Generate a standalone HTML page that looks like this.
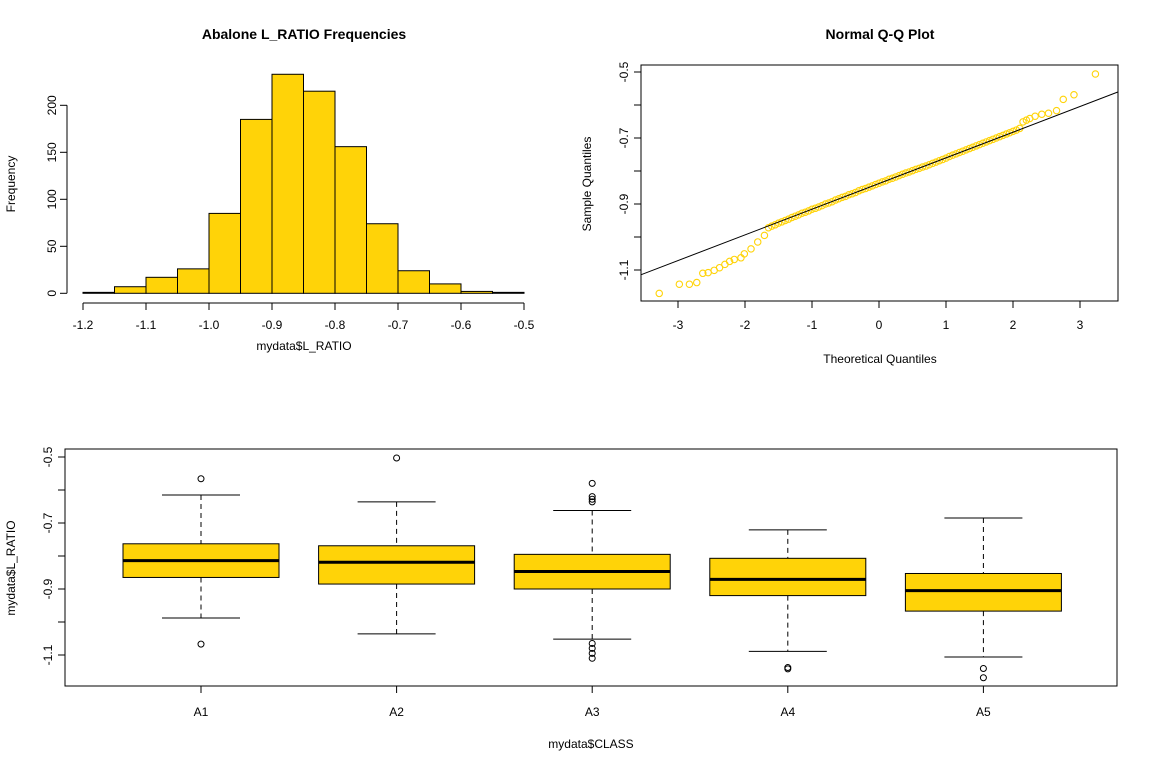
<!DOCTYPE html>
<html><head><meta charset="utf-8"><style>
body{margin:0;background:#fff}
svg{display:block;font-family:"Liberation Sans",sans-serif}
</style></head><body>
<svg id="svg" width="1152" height="768" viewBox="0 0 1152 768"></svg>
<script>
// ---- histogram data ----
const histBreaks = [-1.2,-1.15,-1.1,-1.05,-1.0,-0.95,-0.9,-0.85,-0.8,-0.75,-0.7,-0.65,-0.6,-0.55,-0.5];
const histCounts = [1,7,17,26,85,185,233,215,156,74,24,10,2,1];
const histXTicks = [-1.2,-1.1,-1.0,-0.9,-0.8,-0.7,-0.6,-0.5];
const histXTickLabels = ["-1.2","-1.1","-1.0","-0.9","-0.8","-0.7","-0.6","-0.5"];
const histYTicks = [0,50,100,150,200];
// ---- QQ data ----
const qqTheo = [-3.28,-2.98,-2.83,-2.72,-2.63,-2.55,-2.46,-2.38,-2.30,-2.23,-2.16,-2.06,-2.01,-1.91,-1.81,-1.71,
-1.65,-1.60,-1.55,-1.50,-1.45,-1.40,-1.35,-1.30,-1.25,-1.20,-1.15,-1.10,-1.05,-1.00,-0.95,-0.90,-0.85,-0.80,-0.75,-0.70,-0.65,-0.60,-0.55,-0.50,-0.45,-0.40,-0.35,-0.30,-0.25,-0.20,-0.15,-0.10,-0.05,0.00,
0.05,0.10,0.15,0.20,0.25,0.30,0.35,0.40,0.45,0.50,0.55,0.60,0.65,0.70,0.75,0.80,0.85,0.90,0.95,1.00,1.05,1.10,1.15,1.20,1.25,1.30,1.35,1.40,1.45,1.50,1.55,1.60,1.65,1.70,1.75,1.80,1.85,1.90,1.95,2.00,2.05,2.10,
2.15,2.20,2.25,2.33,2.43,2.53,2.65,2.75,2.91,3.23];
const qqSample = [-1.171,-1.143,-1.143,-1.138,-1.110,-1.108,-1.101,-1.093,-1.083,-1.074,-1.068,-1.063,-1.051,-1.036,-1.015,-0.995,
-0.972,-0.967,-0.963,-0.958,-0.954,-0.950,-0.946,-0.941,-0.937,-0.933,-0.928,-0.925,-0.921,-0.916,-0.913,-0.909,-0.905,-0.900,-0.897,-0.893,-0.888,-0.884,-0.880,-0.877,-0.872,-0.869,-0.865,-0.860,-0.856,-0.853,-0.849,-0.845,-0.841,-0.837,
-0.833,-0.830,-0.825,-0.822,-0.818,-0.814,-0.810,-0.806,-0.803,-0.799,-0.795,-0.792,-0.788,-0.785,-0.781,-0.777,-0.773,-0.769,-0.765,-0.761,-0.756,-0.752,-0.748,-0.744,-0.740,-0.736,-0.732,-0.728,-0.724,-0.720,-0.716,-0.712,-0.708,-0.704,-0.700,-0.696,-0.692,-0.688,-0.684,-0.680,-0.676,-0.671,
-0.651,-0.646,-0.641,-0.634,-0.628,-0.625,-0.617,-0.583,-0.569,-0.506];
const qqLine = [-0.838, 0.0778]; // intercept, slope
const qqXTicks = [-3,-2,-1,0,1,2,3];
const qqYTicks = [-0.5,-0.7,-0.9,-1.1];
const qqYTickLabels = ["-0.5","-0.7","-0.9","-1.1"];
// ---- boxplot data ----
const boxCats = ["A1","A2","A3","A4","A5"];
const boxLowW = [-0.988,-1.036,-1.052,-1.089,-1.106];
const boxQ1 = [-0.865,-0.885,-0.900,-0.920,-0.967];
const boxMed = [-0.814,-0.819,-0.847,-0.871,-0.905];
const boxQ3 = [-0.763,-0.769,-0.795,-0.807,-0.853];
const boxHighW = [-0.615,-0.636,-0.662,-0.721,-0.685];
const boxOutliers = [[-0.566,-1.067],[-0.503],[-0.580,-0.620,-0.628,-0.636,-1.065,-1.080,-1.095,-1.110],[-1.138,-1.142],[-1.141,-1.169]];
const boxYTicks = [-0.5,-0.6,-0.7,-0.8,-0.9,-1.0,-1.1];
const boxYLabels = ["-0.5","","-0.7","","-0.9","","-1.1"];

const NS="http://www.w3.org/2000/svg";
const svg=document.getElementById('svg');
const GOLD="#FFD308";
function mk(tag,attrs,parent){const e=document.createElementNS(NS,tag);for(const k in attrs)e.setAttribute(k,attrs[k]);(parent||svg).appendChild(e);return e;}
function txt(s,x,y,opts,parent){const e=mk('text',Object.assign({x:x,y:y,'text-anchor':'middle','font-size':12,fill:'#000'},opts||{}),parent);e.textContent=s;return e;}

// ===== Histogram =====
const hx=v=>83+(v+1.2)*630;
const hy=c=>293.3-c*0.94;
const gH=mk('g',{});


let t=txt("Abalone L_RATIO Frequencies",304,39,{'font-size':14,'font-weight':'bold'},gH);

histCounts.forEach((c,i)=>{
  const r=mk('rect',{x:hx(histBreaks[i]),y:hy(c),width:hx(histBreaks[i+1])-hx(histBreaks[i]),height:hy(0)-hy(c),fill:GOLD,stroke:'#000','stroke-width':1},gH);
  
});
mk('line',{x1:hx(-1.2),x2:hx(-0.5),y1:303,y2:303,stroke:'#000'},gH);
histXTicks.forEach((v,i)=>{mk('line',{x1:hx(v),x2:hx(v),y1:303,y2:310,stroke:'#000'},gH);
  const l=txt(histXTickLabels[i],hx(v),329,{},gH);});
mk('line',{x1:67,x2:67,y1:hy(0),y2:hy(200),stroke:'#000'},gH);
histYTicks.forEach(v=>{mk('line',{x1:60,x2:67,y1:hy(v),y2:hy(v),stroke:'#000'},gH);
  const l=txt(String(v),0,0,{transform:`translate(${56},${hy(v)}) rotate(-90)`},gH);});
t=txt("mydata$L_RATIO",304,350,{},gH);
t=txt("Frequency",0,0,{transform:'translate(15,184) rotate(-90)'},gH);

// ===== QQ plot =====
const qx=v=>879+v*67;
const qy=v=>72+(-0.5-v)*330;
const gQ=mk('g',{});


t=txt("Normal Q-Q Plot",880,39,{'font-size':14,'font-weight':'bold'},gQ);
const clip=mk('clipPath',{id:'qqclip'},gQ);mk('rect',{x:641,y:65,width:477,height:236},clip);
const pts=mk('g',{'clip-path':'url(#qqclip)'},gQ);
qqTheo.forEach((v,i)=>{const c=mk('circle',{cx:qx(v),cy:qy(qqSample[i]),r:3.2,fill:'none',stroke:GOLD,'stroke-width':1.1},pts);
  });
const ln=mk('line',{x1:qx(-4),y1:qy(qqLine[0]-4*qqLine[1]),x2:qx(4),y2:qy(qqLine[0]+4*qqLine[1]),stroke:'#000','stroke-width':1},pts);

mk('rect',{x:641,y:65,width:477,height:236,fill:'none',stroke:'#000'},gQ);
qqXTicks.forEach(v=>{mk('line',{x1:qx(v),x2:qx(v),y1:301,y2:308,stroke:'#000'},gQ);
  const l=txt(String(v),qx(v),329,{},gQ);});
qqYTicks.forEach((v,i)=>{mk('line',{x1:634,x2:641,y1:qy(v),y2:qy(v),stroke:'#000'},gQ);
  const l=txt(qqYTickLabels[i],0,0,{transform:`translate(${628},${qy(v)}) rotate(-90)`},gQ);});
[-0.6,-0.8,-1.0].forEach(v=>mk('line',{x1:634,x2:641,y1:qy(v),y2:qy(v),stroke:'#000'},gQ));
t=txt("Theoretical Quantiles",880,363,{},gQ);
t=txt("Sample Quantiles",0,0,{transform:'translate(591,184) rotate(-90)'},gQ);

// ===== Boxplot =====
const bx=i=>201+i*195.6;
const by=v=>457+(-0.5-v)*330;
const gB=mk('g',{});


boxCats.forEach((c,i)=>{
  const g=mk('g',{},gB);
  
  const x=bx(i);
  mk('line',{x1:x,x2:x,y1:by(boxHighW[i]),y2:by(boxQ3[i]),stroke:'#000','stroke-dasharray':'5,4'},g);
  mk('line',{x1:x,x2:x,y1:by(boxQ1[i]),y2:by(boxLowW[i]),stroke:'#000','stroke-dasharray':'5,4'},g);
  mk('line',{x1:x-39,x2:x+39,y1:by(boxHighW[i]),y2:by(boxHighW[i]),stroke:'#000'},g);
  mk('line',{x1:x-39,x2:x+39,y1:by(boxLowW[i]),y2:by(boxLowW[i]),stroke:'#000'},g);
  mk('rect',{x:x-78,y:by(boxQ3[i]),width:156,height:by(boxQ1[i])-by(boxQ3[i]),fill:GOLD,stroke:'#000'},g);
  mk('line',{x1:x-78,x2:x+78,y1:by(boxMed[i]),y2:by(boxMed[i]),stroke:'#000','stroke-width':3},g);
  boxOutliers[i].forEach(o=>{const c=mk('circle',{cx:x,cy:by(o),r:3,fill:'none',stroke:'#000'},g);
    });
  mk('line',{x1:x,x2:x,y1:686,y2:693,stroke:'#000'},gB);
  const l=txt(c,x,716,{},gB);
});
mk('rect',{x:65,y:449,width:1052,height:237,fill:'none',stroke:'#000'},gB);
boxYTicks.forEach((v,i)=>{mk('line',{x1:58,x2:65,y1:by(v),y2:by(v),stroke:'#000'},gB);
  if(boxYLabels[i]){const l=txt(boxYLabels[i],0,0,{transform:`translate(${52},${by(v)}) rotate(-90)`},gB);}});
t=txt("mydata$CLASS",591,748,{},gB);
t=txt("mydata$L_RATIO",0,0,{transform:'translate(15,568) rotate(-90)'},gB);
</script>
</body></html>
